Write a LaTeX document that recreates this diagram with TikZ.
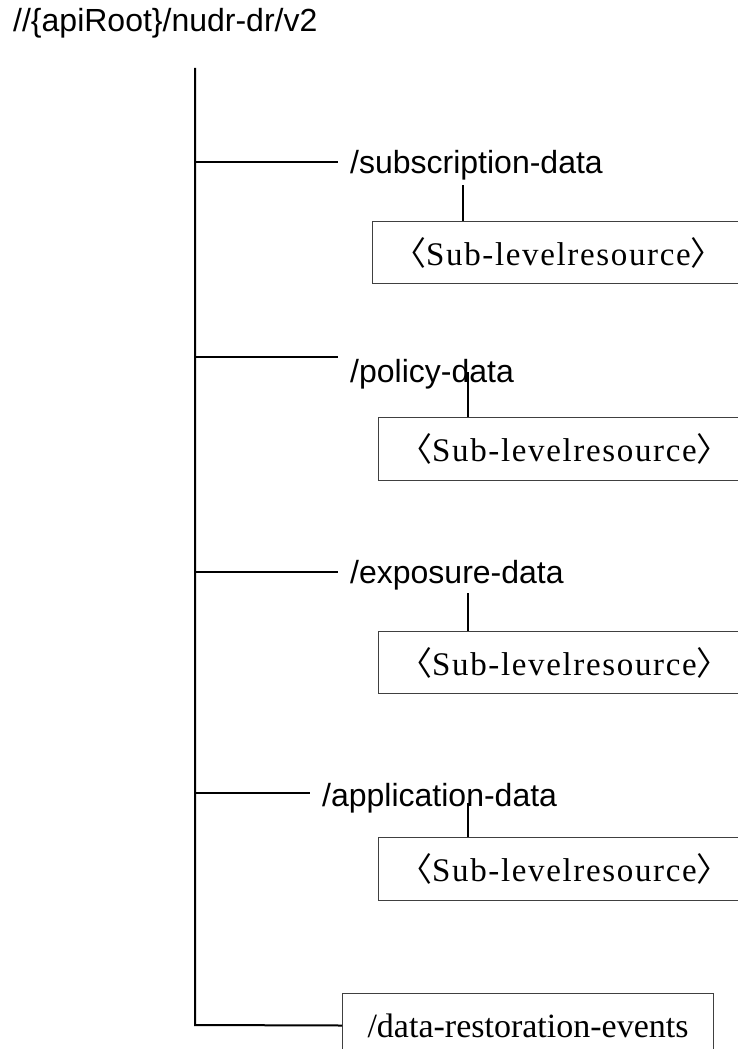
\documentclass[tikz,border=0pt]{standalone}
\usepackage{fontspec}
\setmainfont{Liberation Sans}
\newfontfamily\serifbox[LetterSpace=5]{Liberation Serif}
\newfontfamily\serifleaf{Liberation Serif}
\newfontfamily\cjk{Noto Sans CJK SC}
\usetikzlibrary{positioning}

\begin{document}
\begin{tikzpicture}[x=1pt, y=-1pt,
    reslabel/.style={anchor=base west, inner xsep=12pt, inner ysep=0pt, font=\fontsize{32}{38}\selectfont},
    subbox/.style={draw=black!75, line width=1pt, anchor=north west, minimum width=372pt, minimum height=62pt, inner sep=0pt, font=\fontsize{33}{38}\selectfont\serifbox},
    leafbox/.style={draw=black!75, line width=1pt, anchor=north west, minimum width=371pt, minimum height=64pt, inner sep=0pt, font=\fontsize{34}{40}\selectfont\serifleaf},
    trunkline/.style={line width=2pt},
    stubline/.style={line width=1.5pt}]
        \useasboundingbox (0,0) rectangle (737,1049);
        % Define the nodes
        \node[reslabel, inner xsep=0pt] (r_0) at (13,32) {//\{apiRoot\}/nudr-dr/v2};
        \node[reslabel] (d_1) at (338,173) {/subscription-data};
        \node[reslabel] (d_2) at (338,382) {/policy-data};
        \node[reslabel] (d_3) at (338,583) {/exposure-data};
        \node[reslabel] (d_4) at (310,806) {/application-data};
        \node[subbox] (s_1) at (372,221) {{\cjk 〈}Sub-levelresource{\cjk 〉}};
        \node[subbox, minimum height=63pt] (s_2) at (378,417) {{\cjk 〈}Sub-levelresource{\cjk 〉}};
        \node[subbox] (s_3) at (378,631) {{\cjk 〈}Sub-levelresource{\cjk 〉}};
        \node[subbox, minimum height=63pt] (s_4) at (378,837) {{\cjk 〈}Sub-levelresource{\cjk 〉}};
        \node[leafbox] (d_5) at (342,993) {/data-restoration-events};
        % Define the junctions
        \coordinate (t_0) at (195,68);
        \coordinate (j_1) at (195,162);
        \coordinate (j_2) at (195,357);
        \coordinate (j_3) at (195,572);
        \coordinate (j_4) at (195,793);
        \coordinate (j_5) at (195,1025);
        \coordinate (v_1) at (463,185);
        \coordinate (v_2) at (468,372);
        \coordinate (v_3) at (468,593);
        \coordinate (v_4) at (468,803);
        % Define the tree
        \draw[trunkline] (t_0) -- (j_5) -- (d_5.west);
        \draw[trunkline] (j_1) -- (j_1 -| d_1.west);
        \draw[trunkline] (j_2) -- (j_2 -| d_2.west);
        \draw[trunkline] (j_3) -- (j_3 -| d_3.west);
        \draw[trunkline] (j_4) -- (j_4 -| d_4.west);
        \draw[stubline] (v_1) -- (v_1 |- s_1.north);
        \draw[stubline] (v_2) -- (v_2 |- s_2.north);
        \draw[stubline] (v_3) -- (v_3 |- s_3.north);
        \draw[stubline] (v_4) -- (v_4 |- s_4.north);
    \end{tikzpicture}
\end{document}
